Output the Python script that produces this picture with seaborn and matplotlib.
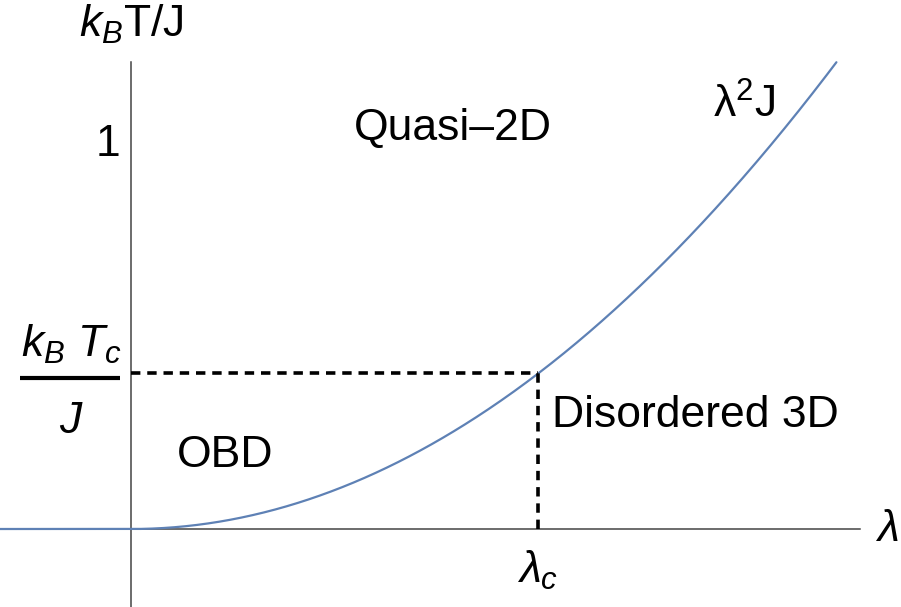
import numpy as np
import pandas as pd
import matplotlib
matplotlib.use("Agg")
import matplotlib.pyplot as plt
import seaborn as sns

# Phase-diagram parameters (units of J)
lambda_range = [-0.2034, 1.0954]   # plotted coupling range of the crossover curve
lambda_c = [0.632]                 # critical coupling
tc_level = [0.40]                  # k_B T_c / J
y_ticks = [1.0]
y_tick_labels = ["1"]
x_ticks = [0.632]
x_tick_labels = [r"$\lambda_c$"]
regions = ["Quasi\u20132D", "Disordered 3D", "OBD"]

sns.set_style("white")
plt.rcParams["font.family"] = ["Liberation Sans", "DejaVu Sans"]
plt.rcParams["mathtext.fontset"] = "custom"
plt.rcParams["mathtext.rm"] = "Liberation Sans"
plt.rcParams["mathtext.it"] = "Liberation Sans:italic"
plt.rcParams["mathtext.sf"] = "Liberation Sans"
plt.rcParams["text.color"] = "black"
plt.rcParams["xtick.color"] = "black"
plt.rcParams["ytick.color"] = "black"
plt.rcParams["xtick.labelcolor"] = "black"
plt.rcParams["ytick.labelcolor"] = "black"

FS = 32
fig = plt.figure(figsize=(9.01, 6.07), dpi=100)
ax = fig.add_axes([0, 0, 1, 1])

# crossover curve k_B T = lambda^2 J (zero for lambda < 0)
lam = np.linspace(lambda_range[0], lambda_range[1], 600)
df = pd.DataFrame({"lam": lam, "T": np.where(lam > 0, lam ** 2, 0.0)})
sns.lineplot(data=df, x="lam", y="T", ax=ax, color="#5E81B5", lw=1.6,
             estimator=None, sort=False, zorder=3)

# dashed guides at (lambda_c, T_c)
ax.plot([0, lambda_c[0]], [tc_level[0], tc_level[0]], color="black", lw=2.6,
        dashes=(2.6, 1.9), zorder=4)
ax.plot([lambda_c[0], lambda_c[0]], [0, tc_level[0]], color="black", lw=2.6,
        dashes=(2.6, 1.9), zorder=4)

ax.set_xlim(-0.2034, 1.1957)
ax.set_ylim(-0.2005, 1.3599)

for s in ["top", "right"]:
    ax.spines[s].set_visible(False)
for s in ["left", "bottom"]:
    ax.spines[s].set_position(("data", 0))
    ax.spines[s].set_color("#444444")
    ax.spines[s].set_linewidth(1.1)
ax.spines["left"].set_bounds(-0.2005, 1.2)
ax.spines["bottom"].set_bounds(-0.2034, 1.132)

ax.set_yticks(y_ticks)
ax.set_yticklabels(y_tick_labels, fontsize=FS)
ax.set_xticks(x_ticks)
ax.set_xticklabels(x_tick_labels, fontsize=FS)
ax.tick_params(axis="y", direction="in", length=4, width=1, color="#444444", pad=8)
ax.tick_params(axis="x", length=0, pad=14)
ax.set_xlabel("")
ax.set_ylabel("")

# k_B T_c / J label on the vertical axis, written as a fraction
ax.text(-0.171, 0.442, r"$k_B\ T_c$", fontsize=FS, ha="left", va="baseline")
ax.plot([-0.1724, -0.0171], [0.388, 0.388], color="black", lw=3.0,
        solid_capstyle="butt", clip_on=False)
ax.text(-0.093, 0.247, r"$J$", fontsize=FS, ha="center", va="baseline")

# axis labels at the axis ends
ax.text(0, 1.296, r"$k_B$T/J", fontsize=FS, ha="center", va="center")
ax.text(1.174, 0, r"$\lambda$", fontsize=FS, ha="center", va="center")

# region labels
ax.text(0.50, 1.0, regions[0], fontsize=FS, ha="center", va="baseline")
ax.text(0.653, 0.263, regions[1], fontsize=FS, ha="left", va="baseline")
ax.text(0.0715, 0.160, regions[2], fontsize=FS, ha="left", va="baseline")
ax.text(0.904, 1.058, r"$\mathrm{\lambda}^2$J", fontsize=FS, ha="left", va="baseline")

fig.savefig("out.png", dpi=100)
